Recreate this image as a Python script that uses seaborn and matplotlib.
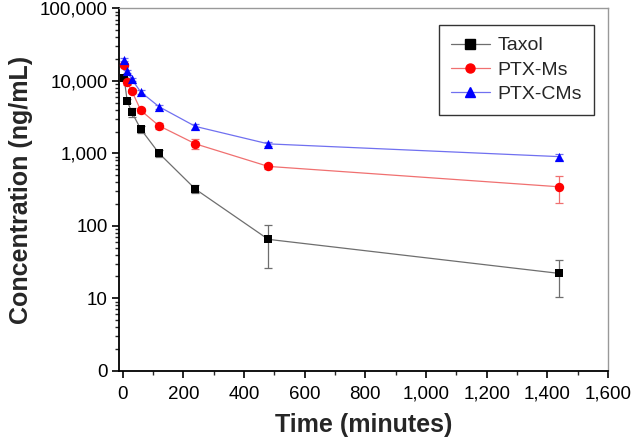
import numpy as np
import pandas as pd
import matplotlib
matplotlib.use("Agg")
import matplotlib.pyplot as plt
from matplotlib.ticker import FuncFormatter, AutoMinorLocator, LogLocator, FixedLocator
from matplotlib.lines import Line2D
import seaborn as sns

# sampling times (minutes)
time_min = [5, 15, 30, 60, 120, 240, 480, 1440]

# mean plasma concentrations (ng/mL)
taxol = [10800, 5300, 3700, 2150, 1000, 320, 65, 22]
ptx_ms = [16500, 9500, 7300, 3900, 2400, 1350, 660, 345]
ptx_cms = [19500, 13500, 10500, 7000, 4400, 2350, 1350, 900]

# standard deviations
taxol_sd = [600, 400, 500, 250, 120, 40, 39, 11.7]
ptx_ms_sd = [900, 600, 500, 300, 250, 220, 60, 140]
ptx_cms_sd = [1000, 800, 600, 400, 300, 200, 100, 80]

series_names = ["Taxol", "PTX-Ms", "PTX-CMs"]
marker_colors = {"Taxol": "#000000", "PTX-Ms": "#ff0000", "PTX-CMs": "#0000ff"}
line_colors = {"Taxol": "#6e6e6e", "PTX-Ms": "#f07070", "PTX-CMs": "#7070f0"}
markers = {"Taxol": "s", "PTX-Ms": "o", "PTX-CMs": "^"}
marker_area = {"Taxol": 34, "PTX-Ms": 46, "PTX-CMs": 44}

df = pd.DataFrame({
    "Time": time_min * 3,
    "Conc": taxol + ptx_ms + ptx_cms,
    "SD": taxol_sd + ptx_ms_sd + ptx_cms_sd,
    "Group": [n for n in series_names for _ in time_min],
})

sns.set_style("ticks")
plt.rcParams["font.family"] = ["Liberation Sans", "DejaVu Sans"]

fig = plt.figure(figsize=(6.34, 4.42), dpi=100)
ax = fig.add_axes([0.1877, 0.1613, 0.7713, 0.8197])

sns.lineplot(data=df, x="Time", y="Conc", hue="Group", palette=line_colors,
             hue_order=series_names, linewidth=0.9, legend=False, ax=ax, zorder=2)

for name in series_names:
    sub = df[df["Group"] == name]
    ax.errorbar(sub["Time"], sub["Conc"], yerr=sub["SD"], fmt="none",
                ecolor=line_colors[name], elinewidth=0.9, capsize=3, capthick=0.9, zorder=3)
    sns.scatterplot(data=sub, x="Time", y="Conc", color=marker_colors[name],
                    marker=markers[name], s=marker_area[name], linewidth=0,
                    legend=False, ax=ax, zorder=4)

ax.set_yscale("log")
ax.set_ylim(1, 100000)
ax.set_xlim(-12, 1600)

ax.yaxis.set_major_locator(FixedLocator([1, 10, 100, 1000, 10000, 100000]))
ax.yaxis.set_minor_locator(LogLocator(base=10, subs=np.arange(2, 10)))
ax.yaxis.set_major_formatter(FuncFormatter(lambda v, p: "0" if v <= 1 else f"{int(round(v)):,}"))
ax.xaxis.set_major_locator(FixedLocator(np.arange(0, 1601, 200)))
ax.xaxis.set_minor_locator(AutoMinorLocator(2))
ax.xaxis.set_major_formatter(FuncFormatter(lambda v, p: f"{int(v):,}"))

ax.tick_params(axis="both", which="major", direction="out", length=5, width=1.2,
               labelsize=13.5, colors="black")
ax.tick_params(axis="x", which="major", pad=6)
ax.tick_params(axis="y", which="major", pad=3)
ax.tick_params(axis="both", which="minor", direction="out", length=3, width=1.0)
ax.tick_params(top=False, right=False, which="both")

for side in ["left", "bottom"]:
    ax.spines[side].set_color("black")
    ax.spines[side].set_linewidth(1.3)
for side in ["top", "right"]:
    ax.spines[side].set_color("#999999")
    ax.spines[side].set_linewidth(1.0)

ax.set_xlabel("Time (minutes)", fontsize=18, fontweight="bold", labelpad=7)
ax.set_ylabel("Concentration (ng/mL)", fontsize=18, fontweight="bold", labelpad=5)

handles = [Line2D([0], [0], color=line_colors[n], lw=0.9, marker=markers[n],
                  markerfacecolor=marker_colors[n], markeredgecolor=marker_colors[n],
                  markersize=6.5) for n in series_names]
leg = ax.legend(handles, series_names, loc="upper right", bbox_to_anchor=(0.971, 0.954),
                borderaxespad=0, fontsize=14, frameon=True, fancybox=False,
                handlelength=2.0, borderpad=0.6, labelspacing=0.35, handletextpad=0.4)
leg.get_frame().set_edgecolor("black")
leg.get_frame().set_linewidth(1.0)

fig.savefig("out.png", dpi=100)
